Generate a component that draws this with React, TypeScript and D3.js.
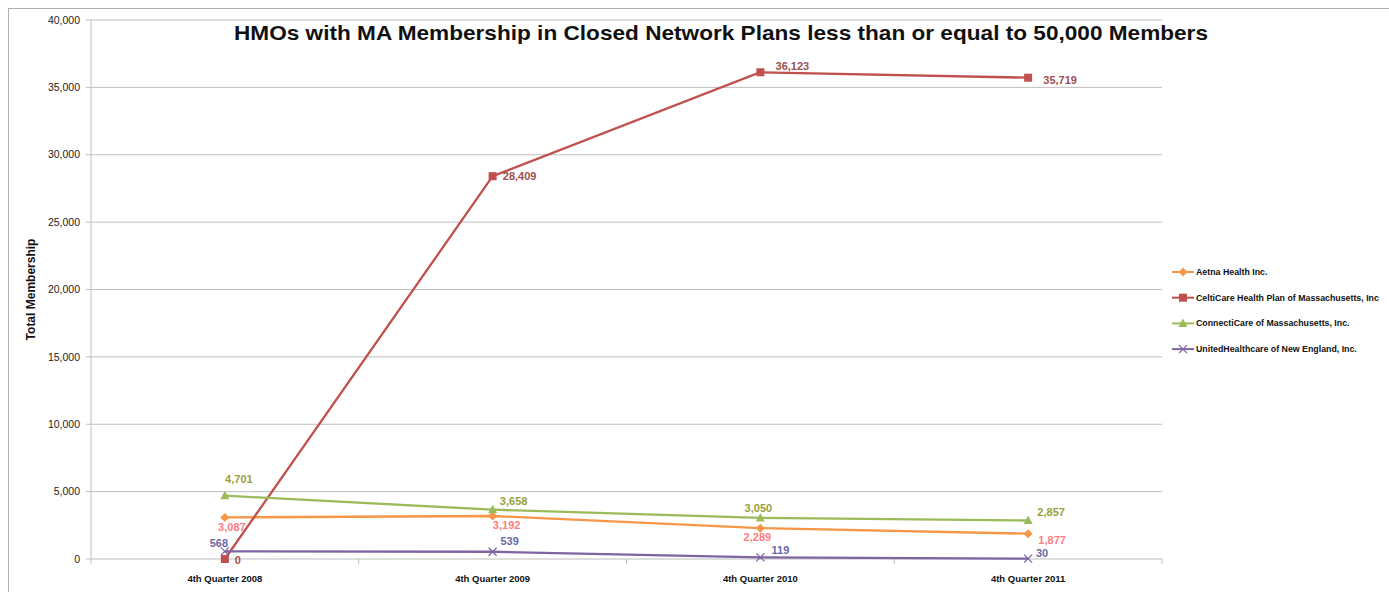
import * as d3 from "d3";

const categories = ["4th Quarter 2008", "4th Quarter 2009", "4th Quarter 2010", "4th Quarter 2011"];
const aetna = [3087, 3192, 2289, 1877];
const celticare = [0, 28409, 36123, 35719];
const connecticare = [4701, 3658, 3050, 2857];
const united = [568, 539, 119, 30];
const yTicks = [0, 5000, 10000, 15000, 20000, 25000, 30000, 35000, 40000];

const series = [
  { name: "Aetna Health Inc.", values: aetna, color: "#F79646", labelColor: "#FF7C80", marker: "diamond",
    // label offsets (dx, dy from point, text centre)
    offsets: [[7, 10], [14, 9], [-3, 9], [24, 6]] },
  { name: "CeltiCare Health Plan of Massachusetts, Inc", values: celticare, color: "#C0504D", labelColor: "#A0504F", marker: "square",
    offsets: [[13, 1], [27, 0], [32, -6], [32, 2]] },
  { name: "ConnectiCare of Massachusetts, Inc.", values: connecticare, color: "#9BBB59", labelColor: "#98A03A", marker: "triangle",
    offsets: [[14, -17], [21, -9], [-2, -10], [23, -8]] },
  { name: "UnitedHealthcare of New England, Inc.", values: united, color: "#8064A2", labelColor: "#6A68A8", marker: "x",
    offsets: [[-6, -8], [17, -11], [20, -7], [14, -5]] },
];

const W = 1389;
const H = 592;
const plot = { left: 91, top: 20, right: 1162, bottom: 559 };

function Marker({ type, x, y, color }: { type: string; x: number; y: number; color: string }) {
  if (type === "diamond") {
    return <path d={`M${x},${y - 4.5}L${x + 4.5},${y}L${x},${y + 4.5}L${x - 4.5},${y}Z`} fill={color} />;
  }
  if (type === "square") {
    return <rect x={x - 4} y={y - 4} width={8} height={8} fill={color} />;
  }
  if (type === "triangle") {
    return <path d={`M${x},${y - 5}L${x + 4.5},${y + 3.5}L${x - 4.5},${y + 3.5}Z`} fill={color} />;
  }
  return (
    <path d={`M${x - 4},${y - 4}L${x + 4},${y + 4}M${x + 4},${y - 4}L${x - 4},${y + 4}`} stroke={color} strokeWidth={1.3} fill="none" />
  );
}

export default function App() {
  const x = d3.scaleBand<string>().domain(categories).range([plot.left, plot.right]);
  const y = d3.scaleLinear().domain([0, 40000]).range([plot.bottom, plot.top]);
  const cx = (c: string) => (x(c) || 0) + x.bandwidth() / 2;
  const fmt = d3.format(",");
  const font = "Liberation Sans, Arial, sans-serif";

  const line = d3
    .line<number>()
    .x((_, i) => cx(categories[i]))
    .y((d) => y(d));

  const boundaries = [...categories.map((c) => x(c) || 0), plot.right];

  return (
    <svg width={W} height={H} style={{ position: "absolute", left: 0, top: 0, background: "#fff" }} fontFamily={font}>
      {/* chart frame */}
      <rect x={8.5} y={8.5} width={W + 20} height={H + 20} fill="none" stroke="#B0B0B0" strokeWidth={1} />

      {/* grid */}
      {yTicks.map((t) => (
        <g key={t}>
          <line x1={plot.left - 5} x2={plot.right} y1={y(t)} y2={y(t)} stroke="#BEBEBE" strokeWidth={1} />
          <text x={80} y={y(t)} dy="0.35em" textAnchor="end" fontSize={10.5} fill="#222">
            {fmt(t)}
          </text>
        </g>
      ))}
      <line x1={plot.left} x2={plot.left} y1={plot.top} y2={plot.bottom} stroke="#BEBEBE" />
      {boundaries.map((b, i) => (
        <line key={i} x1={b} x2={b} y1={plot.bottom} y2={plot.bottom + 5} stroke="#BEBEBE" />
      ))}
      {categories.map((c) => (
        <text key={c} x={cx(c)} y={plot.bottom + 23} textAnchor="middle" fontSize={9.5} fontWeight="bold" fill="#111">
          {c}
        </text>
      ))}

      {/* axis title */}
      <text transform={`translate(35, ${(plot.top + plot.bottom) / 2}) rotate(-90)`} textAnchor="middle" fontSize={12} fontWeight="bold" fill="#111">
        Total Membership
      </text>

      {/* title */}
      <text x={721} y={40} textAnchor="middle" fontSize={21} fontWeight="bold" fill="#111" textLength={974} lengthAdjust="spacingAndGlyphs">
        HMOs with MA Membership in Closed Network Plans less than or equal to 50,000 Members
      </text>

      {/* series */}
      {series.map((s) => (
        <g key={s.name}>
          <path d={line(s.values) || ""} fill="none" stroke={s.color} strokeWidth={2.3} />
          {s.values.map((v, i) => (
            <Marker key={i} type={s.marker} x={cx(categories[i])} y={y(v)} color={s.color} />
          ))}
        </g>
      ))}

      {/* data labels */}
      {series.map((s) =>
        s.values.map((v, i) => (
          <text
            key={s.name + i}
            x={cx(categories[i]) + s.offsets[i][0]}
            y={y(v) + s.offsets[i][1]}
            dy="0.35em"
            textAnchor="middle"
            fontSize={11}
            fontWeight="bold"
            fill={s.labelColor}
          >
            {fmt(v)}
          </text>
        ))
      )}

      {/* legend */}
      {series.map((s, i) => {
        const ly = 272 + i * 25.7;
        return (
          <g key={s.name}>
            <line x1={1172} x2={1194} y1={ly} y2={ly} stroke={s.color} strokeWidth={2} />
            <Marker type={s.marker} x={1183} y={ly} color={s.color} />
            <text x={1196} y={ly} dy="0.35em" fontSize={8.8} fontWeight="bold" fill="#111">
              {s.name}
            </text>
          </g>
        );
      })}
    </svg>
  );
}
